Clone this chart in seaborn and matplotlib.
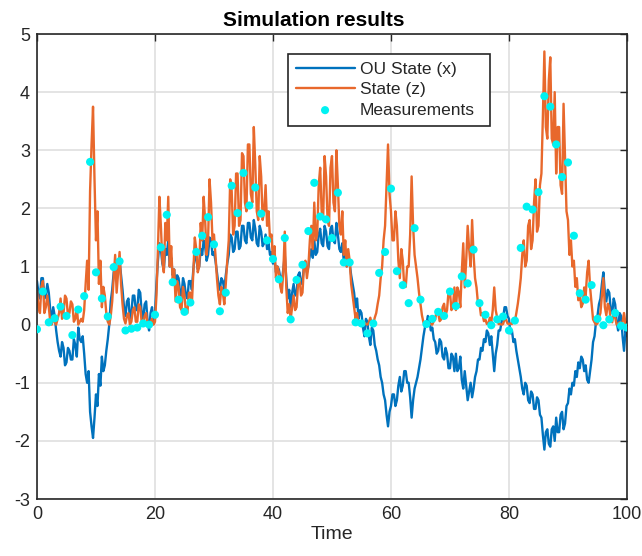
import numpy as np
import pandas as pd
import matplotlib
matplotlib.use("Agg")
import matplotlib.pyplot as plt
import seaborn as sns

# ---------------- data ----------------
time_step = 0.25
ou_state_x = [
    0.75, 0.55, 0.45, 0.8,   0.8, 0.45, 0.5, 0.7,   0.55, 0.25, 0.1, 0.3,
    0.15, -0.1, -0.3, -0.45,  -0.55, -0.3, -0.4, -0.7,  -0.65, -0.4, -0.45, -0.6,
    -0.6, -0.25, -0.35, -0.55,  -0.05, -0.25, -0.3, -0.2,  -0.5, -0.85, -1.0, -0.8,
    -1.5, -1.75, -1.95, -1.6,  -1.2, -1.4, -0.85, -1.05,  -0.55, -0.8, -0.7, -0.45,
    -0.25, 0.0, 0.4, 0.6,  0.9, 1.05, 0.75, 0.95,  1.1, 0.85, 0.6, 0.3,
    0.15, 0.4, 0.45, 0.1,  0.2, 0.5, 0.5, 0.25,  0.25, 0.6, 0.55, 0.2,
    0.1, 0.35, 0.4, 0.05,  -0.1, 0.2, 0.3, 0.05,  0.2, 0.7, 1.1, 1.4,
    1.3, 1.05, 0.95, 1.3,  1.2, 1.45, 1.0, 1.15,  0.85, 0.95, 0.65, 0.85,
    0.8, 0.55, 0.5, 0.8,  0.7, 0.5, 0.45, 0.75,  0.75, 0.6, 0.95, 1.2,
    1.15, 0.95, 1.0, 1.3,  1.2, 1.45, 1.35, 1.1,  1.2, 1.5, 1.45, 1.2,
    1.25, 1.1, 0.9, 0.7,  0.6, 0.8, 0.75, 0.6,  0.85, 1.05, 1.2, 1.55,
    1.5, 1.25, 1.3, 1.6,  1.6, 1.3, 1.35, 1.7,  1.7, 1.45, 1.4, 1.75,
    1.75, 1.5, 1.45, 1.8,  1.65, 1.4, 1.35, 1.7,  1.6, 1.35, 1.4, 1.55,
    1.3, 1.4, 1.2, 1.25,  1.05, 1.15, 0.9, 1.0,  0.95, 0.8, 0.75, 0.95,
    1.2, 0.8, 0.45, 0.6,  0.3, 0.55, 0.7, 0.5,  0.55, 0.85, 0.9, 0.7,
    0.75, 1.0, 1.05, 0.9,  1.0, 1.2, 1.3, 1.15,  1.45, 1.2, 1.25, 1.55,
    1.65, 1.4, 1.35, 1.7,  1.6, 1.35, 1.3, 1.65,  1.7, 1.45, 1.4, 1.75,
    1.55, 1.3, 1.25, 1.4,  1.1, 1.2, 1.0, 1.15,  1.05, 0.85, 0.7, 0.55,
    0.3, 0.45, 0.1, 0.25,  0.2, -0.05, -0.2, 0.1,  0.05, -0.2, -0.35, -0.05,
    -0.1, -0.35, -0.45, -0.6,  -0.7, -0.9, -1.0, -1.2,  -1.3, -1.55, -1.75, -1.5,
    -1.4, -1.2, -1.2, -1.4,  -1.3, -1.05, -0.9, -1.15,  -1.05, -0.8, -0.8, -1.0,
    -1.0, -1.25, -1.6, -1.3,  -1.1, -1.0, -0.9, -0.75,  -0.6, -0.4, -0.2, -0.05,
    0.0, 0.15, 0.1, -0.1,  -0.05, -0.25, -0.3, -0.5,  -0.45, -0.25, -0.3, -0.55,
    -0.6, -0.4, -0.5, -0.75,  -0.75, -0.5, -0.55, -0.8,  -0.5, -0.8, -0.75, -0.55,
    -0.95, -1.1, -0.8, -1.05,  -1.3, -1.15, -1.0, -1.25,  -1.1, -0.9, -0.8, -0.6,
    -0.6, -0.4, -0.45, -0.25,  -0.3, -0.1, -0.15, -0.35,  -0.2, -0.5, -0.8, -0.5,
    -0.35, -0.1, -0.1, 0.05,  0.1, 0.3, 0.3, 0.15,  0.1, -0.15, -0.1, -0.3,
    -0.25, -0.45, -0.6, -0.75,  -0.9, -1.1, -1.2, -1.0,  -1.05, -1.3, -1.35, -1.15,
    -1.2, -1.45, -1.45, -1.25,  -1.3, -1.55, -1.6, -1.9,  -2.15, -1.85, -1.8, -2.05,
    -2.1, -1.8, -1.75, -2.0,  -1.6, -1.85, -1.85, -1.55,  -1.5, -1.8, -1.7, -1.4,
    -1.35, -1.1, -1.2, -1.0,  -1.05, -0.8, -0.9, -0.65,  -0.75, -0.55, -0.6, -0.8,
    -0.7, -0.95, -1.0, -0.8,  -0.6, -0.3, -0.2, 0.05,  0.15, 0.35, 0.45, 0.7,
    0.9, 0.55, 0.4, 0.6,  0.55, 0.25, 0.2, 0.45,  0.35, 0.05, -0.1, 0.2,
    0.15, -0.2, -0.45, -0.1,  -0.2,
]
state_z = [
    0.6, 0.3, 0.2, 0.65,  0.75, 0.2, 0.3, 0.5,  0.3, 0.05, 0.0, 0.1,
    0.05, 0.0, 0.1, 0.2,  0.45, 0.1, 0.2, 0.5,  0.45, 0.15, 0.2, 0.4,
    0.35, 0.05, 0.1, 0.3,  0.0, 0.05, 0.1, 0.05,  0.25, 0.7, 1.1, 0.6,
    2.3, 3.1, 3.75, 2.5,  1.45, 1.95, 0.7, 1.1,  0.3, 0.65, 0.5, 0.2,
    0.05, 0.0, 0.15, 0.4,  0.8, 1.2, 0.55, 0.9,  1.25, 0.7, 0.35, 0.1,
    0.02, 0.15, 0.2, 0.0,  0.05, 0.25, 0.3, 0.05,  0.05, 0.35, 0.3, 0.04,
    0.0, 0.15, 0.2, 0.0,  0.0, 0.05, 0.1, 0.0,  0.05, 0.5, 1.3, 2.2,
    1.7, 1.1, 0.9, 1.75,  1.45, 2.2, 1.0, 1.35,  0.75, 0.95, 0.4, 0.75,
    0.65, 0.3, 0.25, 0.65,  0.5, 0.2, 0.2, 0.55,  0.55, 0.35, 0.9, 1.5,
    1.3, 0.9, 1.0, 1.75,  1.45, 2.2, 1.8, 1.2,  1.45, 2.5, 2.1, 1.45,
    1.55, 1.2, 0.8, 0.5,  0.35, 0.65, 0.55, 0.35,  0.7, 1.1, 1.45, 2.5,
    2.3, 1.55, 1.7, 2.6,  2.6, 1.7, 1.8, 2.95,  2.9, 2.1, 1.95, 3.1,
    3.1, 2.25, 2.1, 3.4,  2.75, 1.95, 1.8, 2.9,  2.55, 1.8, 1.95, 2.4,
    1.7, 1.95, 1.45, 1.55,  1.1, 1.35, 0.8, 1.0,  0.9, 0.65, 0.55, 0.9,
    1.6, 0.65, 0.2, 0.35,  0.1, 0.3, 0.5, 0.25,  0.3, 0.7, 0.8, 0.5,
    0.55, 1.0, 1.1, 0.8,  1.0, 1.45, 1.7, 1.3,  2.1, 1.45, 1.55, 2.4,
    2.7, 1.95, 1.8, 2.9,  2.55, 1.8, 1.7, 2.7,  2.9, 2.1, 1.95, 3.0,
    2.4, 1.7, 1.55, 1.95,  1.2, 1.45, 1.0, 1.3,  1.1, 0.7, 0.5, 0.3,
    0.1, 0.2, 0.01, 0.06,  0.04, 0.0, 0.04, 0.01,  0.0, 0.04, 0.12, 0.0,
    0.01, 0.12, 0.2, 0.36,  0.5, 0.8, 1.0, 1.45,  1.7, 2.4, 3.1, 2.25,
    1.95, 1.45, 1.45, 1.95,  1.7, 1.1, 0.8, 1.3,  1.1, 0.65, 0.65, 1.0,
    1.0, 1.55, 2.55, 1.7,  1.2, 1.0, 0.8, 0.55,  0.36, 0.16, 0.04, 0.0,
    0.0, 0.02, 0.01, 0.01,  0.0, 0.06, 0.09, 0.25,  0.2, 0.06, 0.09, 0.3,
    0.36, 0.16, 0.25, 0.56,  0.56, 0.25, 0.3, 0.64,  0.25, 0.64, 0.56, 0.3,
    0.9, 1.4, 0.64, 1.1,  1.7, 1.3, 1.0, 1.8,  1.2, 0.8, 0.64, 0.36,
    0.36, 0.16, 0.2, 0.06,  0.09, 0.01, 0.02, 0.12,  0.04, 0.25, 0.64, 0.25,
    0.12, 0.01, 0.01, 0.0,  0.01, 0.09, 0.09, 0.02,  0.01, 0.02, 0.01, 0.09,
    0.06, 0.2, 0.36, 0.56,  0.8, 1.2, 1.45, 1.0,  1.1, 1.7, 1.8, 1.3,
    1.45, 2.1, 2.5, 1.6,  1.7, 2.4, 2.6, 3.6,  4.7, 3.4, 3.2, 4.2,
    4.6, 3.2, 3.1, 4.0,  2.6, 3.4, 3.4, 2.4,  2.25, 3.8, 2.9, 1.95,
    1.8, 1.2, 1.45, 1.0,  1.1, 0.65, 0.8, 0.42,  0.56, 0.3, 0.36, 0.64,
    0.5, 0.9, 1.1, 0.64,  0.36, 0.09, 0.04, 0.0,  0.02, 0.12, 0.2, 0.5,
    0.8, 0.3, 0.16, 0.36,  0.3, 0.06, 0.04, 0.2,  0.12, 0.0, 0.01, 0.04,
    0.02, 0.04, 0.2, 0.01,  0.04,
]
meas_time = list(range(0, 101))
measurements = [
    -0.08, 0.57, 0.04, 0.11, 0.31, 0.15, -0.18, 0.26, 0.49, 2.80,
    0.90, 0.45, 0.14, 0.99, 1.09, -0.10, -0.07, -0.05, 0.02, 0.00,
    0.17, 1.33, 1.89, 0.73, 0.43, 0.22, 0.38, 1.25, 1.53, 1.85,
    1.38, 0.23, 0.55, 2.39, 1.92, 2.61, 2.05, 2.36, 1.91, 1.45,
    1.13, 0.78, 1.49, 0.09, 0.77, 1.03, 1.61, 2.44, 1.86, 1.81,
    1.49, 2.27, 1.07, 1.07, 0.04, 0.02, -0.15, 0.02, 0.89, 1.25,
    2.34, 0.92, 0.68, 0.37, 1.66, 0.43, 0.01, 0.10, 0.22, 0.15,
    0.57, 0.32, 0.83, 0.71, 1.29, 0.37, 0.17, -0.01, 0.09, 0.14,
    -0.10, 0.07, 1.32, 2.03, 1.98, 2.28, 3.93, 3.75, 3.10, 2.54,
    2.79, 1.53, 0.54, 0.43, 0.68, 0.10, -0.01, 0.09, 0.20, -0.02,
    -0.05,
]
x_ticks = [0, 20, 40, 60, 80, 100]
y_ticks = [-3, -2, -1, 0, 1, 2, 3, 4, 5]

# ---------------- styling ----------------
sns.set_theme(style="white")
plt.rcParams["font.family"] = ["Liberation Sans", "DejaVu Sans"]
plt.rcParams["axes.unicode_minus"] = False

c_blue = "#0072BD"
c_orange = "#E8682C"
c_cyan = "#00F2F2"
c_axis = "#262626"

t = np.arange(len(ou_state_x)) * time_step
df = pd.DataFrame({"t": t, "x": ou_state_x, "z": state_z})
dm = pd.DataFrame({"t": meas_time, "m": measurements})

fig = plt.figure(figsize=(6.42, 5.56), dpi=100)
ax = fig.add_axes([0.0576, 0.1025, 0.9190, 0.8363])

sns.lineplot(data=df, x="t", y="x", ax=ax, color=c_blue, lw=1.7,
             label="OU State (x)", estimator=None, sort=False)
sns.lineplot(data=df, x="t", y="z", ax=ax, color=c_orange, lw=1.7,
             label="State (z)", estimator=None, sort=False)
sns.scatterplot(data=dm, x="t", y="m", ax=ax, color=c_cyan, s=34,
                edgecolor="none", label="Measurements", zorder=5)

ax.set_xlim(0, 100)
ax.set_ylim(-3, 5)
ax.set_xticks(x_ticks)
ax.set_yticks(y_ticks)
ax.grid(True, color="#DFDFDF", lw=1.2)
ax.set_axisbelow(True)
for s in ax.spines.values():
    s.set_visible(True)
    s.set_color(c_axis)
    s.set_linewidth(1.2)
ax.tick_params(direction="in", length=5, width=1.0, color=c_axis,
               top=True, right=True, labelsize=13, labelcolor=c_axis, pad=5)
ax.set_xlabel("Time", fontsize=14, color=c_axis, labelpad=2)
ax.set_ylabel("")
ax.set_title("Simulation results", fontsize=15, fontweight="bold",
             color="black", pad=6, x=0.469)

leg = ax.legend(loc="upper left", bbox_to_anchor=(0.425, 0.957, 0.342, 0.0),
                mode="expand", fontsize=12.5,
                frameon=True, fancybox=False, edgecolor=c_axis, framealpha=1,
                borderpad=0.45, labelspacing=0.3, handlelength=3.4,
                handletextpad=0.3, borderaxespad=0.0)
leg.get_frame().set_linewidth(1.2)

fig.savefig("out.png", dpi=100)
